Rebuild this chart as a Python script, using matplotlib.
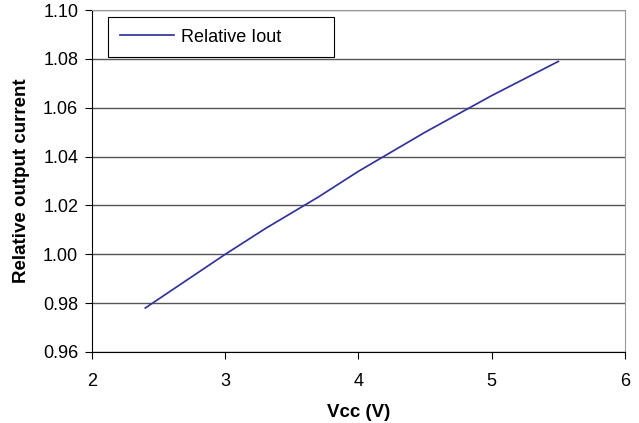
import matplotlib
matplotlib.use('Agg')
import matplotlib.pyplot as plt

plt.rcParams['font.family'] = ['Liberation Sans', 'DejaVu Sans']

# data
vcc = [2.4, 2.7, 3.0, 3.3, 3.5, 3.7, 4.0, 4.5, 5.0, 5.5]
rel_iout = [0.978, 0.989, 1.000, 1.0105, 1.017, 1.0235, 1.034, 1.050, 1.065, 1.079]
xticks = [2, 3, 4, 5, 6]
yticks = [0.96, 0.98, 1.00, 1.02, 1.04, 1.06, 1.08, 1.10]

fig = plt.figure(figsize=(6.39, 4.23), dpi=100)
ax = fig.add_axes([0.144, 0.168, 0.834, 0.808])

ax.plot(vcc, rel_iout, color='#333399', lw=1.25, label='Relative Iout')

ax.set_xlim(2, 6)
ax.set_ylim(0.96, 1.10)
ax.set_xticks(xticks)
ax.set_yticks(yticks)
ax.set_yticklabels(['%.2f' % v for v in yticks])
ax.grid(axis='y', color='#555555', lw=1.0)
ax.set_axisbelow(True)

for s in ['top', 'right']:
    ax.spines[s].set_color('#999999')
for s in ['left', 'bottom']:
    ax.spines[s].set_color('black')

ax.tick_params(labelsize=13, length=5, direction='out', pad=5)
ax.tick_params(axis='x', pad=10)
ax.set_xlabel('Vcc (V)', fontsize=13.5, fontweight='bold', labelpad=10)
ax.set_ylabel('Relative output current', fontsize=13.5, fontweight='bold', labelpad=9)

# legend box stretched like the original
leg = ax.legend(loc='upper left', bbox_to_anchor=(0.030, 0.98, 0.424, 0.0),
                mode='expand', fontsize=13, fancybox=False, edgecolor='black',
                framealpha=1, handlelength=3.0, handletextpad=0.4,
                borderpad=0.65, borderaxespad=0)
leg.get_frame().set_linewidth(0.8)

fig.savefig('out.png', dpi=100)
